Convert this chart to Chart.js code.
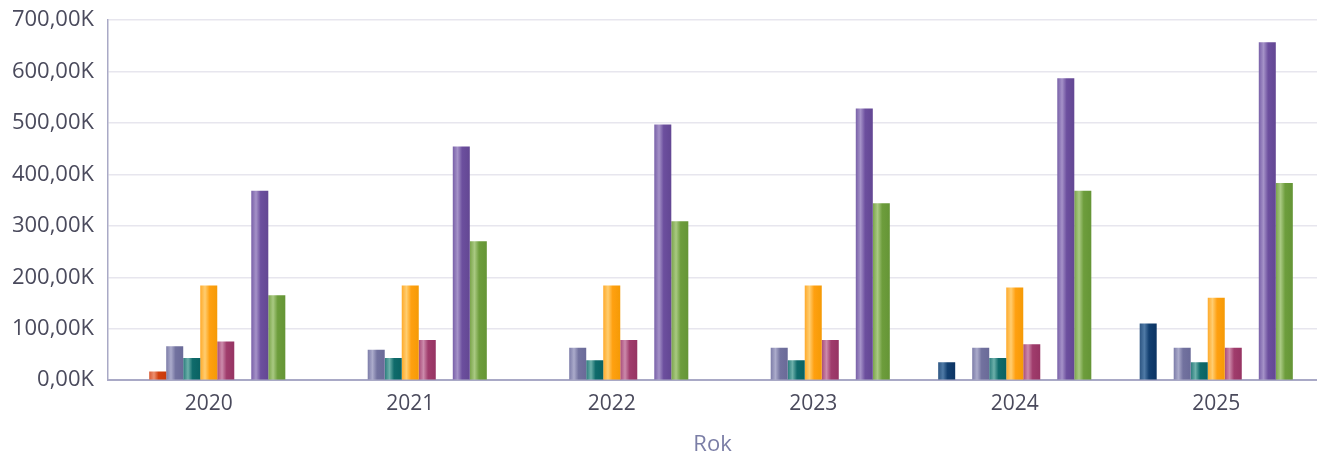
<!DOCTYPE html>
<html>
<head>
<meta charset="utf-8">
<script src="https://cdn.jsdelivr.net/npm/chart.js@4/dist/chart.umd.min.js"></script>
<style>
  html, body { margin: 0; padding: 0; background: #fff; }
  #wrap { width: 1317px; height: 452px; position: relative; }
</style>
</head>
<body>
<div id="wrap"><canvas id="chart"></canvas></div>
<script>
// roky na ose X
const years = ['2020', '2021', '2022', '2023', '2024', '2025'];

// hodnoty jednotlivých řad (v Kč)
const seriesA = [null, null, null, null, 35000, 110000];     // tmavě modrá
const seriesB = [17000, null, null, null, null, null];        // červená
const seriesC = [66000, 59000, 63000, 63000, 63000, 63000];   // šedomodrá
const seriesD = [43000, 43000, 39000, 39000, 43000, 35000];   // petrolejová
const seriesE = [184000, 184000, 184000, 184000, 180000, 160000]; // oranžová
const seriesF = [75000, 78000, 78000, 78000, 70000, 63000];   // vínová
const seriesG = [null, null, null, null, null, null];         // prázdná řada
const seriesH = [368000, 454000, 497000, 528000, 587000, 657000]; // fialová
const seriesI = [165000, 270000, 309000, 344000, 368000, 383000]; // zelená

const yTicksMax = 700000;
const yTicksStep = 100000;

// barvy: [levý okraj, odlesk, střed, pravý okraj]
const palette = [
    ['#2c5582', '#4f7aa6', '#123f70', '#0c3463'],
    ['#d85a34', '#ec9070', '#d2400f', '#c93a0c'],
    ['#7c7ca8', '#ababcb', '#72729f', '#6a6a98'],
    ['#2a7c7c', '#6cb0aa', '#0f6b6b', '#0a6262'],
    ['#ffaa2a', '#ffcd70', '#ffa010', '#f59a06'],
    ['#a84c7a', '#cc8aab', '#a03c6c', '#963463'],
    ['#999999', '#bbbbbb', '#999999', '#999999'],
    ['#7860a8', '#a592c8', '#6c4f9e', '#634793'],
    ['#7aa44a', '#a9c982', '#6d9d3c', '#659536']
];

const CAT_PCT = 0.76;

function barFill(ctx) {
    const cols = palette[ctx.datasetIndex];
    const chart = ctx.chart;
    const xs = chart.scales && chart.scales.x;
    if (!xs || ctx.type !== 'data' || !xs.width) return cols[2];
    const nSets = chart.data.datasets.length;
    const catW = xs.width / years.length;
    const groupW = catW * CAT_PCT;
    const bw = groupW / nSets;
    const left = xs.getPixelForValue(ctx.dataIndex) - groupW / 2 + ctx.datasetIndex * bw;
    const g = chart.ctx.createLinearGradient(left, 0, left + bw, 0);
    g.addColorStop(0, cols[0]);
    g.addColorStop(0.28, cols[1]);
    g.addColorStop(0.55, cols[2]);
    g.addColorStop(1, cols[3]);
    return g;
}

const allSeries = [seriesA, seriesB, seriesC, seriesD, seriesE, seriesF, seriesG, seriesH, seriesI];
const names = ['Řada 1', 'Řada 2', 'Řada 3', 'Řada 4', 'Řada 5', 'Řada 6', 'Řada 7', 'Řada 8', 'Řada 9'];

const datasets = allSeries.map((vals, i) => ({
    label: names[i],
    data: vals,
    backgroundColor: barFill,
    borderWidth: 0,
    barPercentage: 1,
    categoryPercentage: CAT_PCT
}));

const fmtK = v => (v / 1000).toFixed(2).replace('.', ',') + 'K';

new Chart(document.getElementById('chart'), {
    type: 'bar',
    data: { labels: years, datasets: datasets },
    options: {
        responsive: true,
        maintainAspectRatio: false,
        animation: false,
        layout: { padding: { top: 20, right: 0, left: 0, bottom: 0 } },
        plugins: {
            legend: { display: false },
            tooltip: { enabled: false }
        },
        scales: {
            x: {
                grid: { display: false, drawTicks: false },
                border: { color: '#a9a9c6', width: 2 },
                ticks: {
                    color: '#4a4a5c',
                    font: { family: 'Open Sans', size: 21 },
                    padding: 11
                },
                title: {
                    display: true,
                    text: 'Rok',
                    color: '#7b7ea6',
                    font: { family: 'Open Sans', size: 22, lineHeight: 0.8 },
                    padding: { top: 9, bottom: -2 }
                }
            },
            y: {
                min: 0,
                max: yTicksMax,
                afterFit: s => { s.width = 108; },
                grid: { color: '#e7e6ee', lineWidth: 1.5, drawTicks: false },
                border: { color: '#a9a9c6', width: 1.5 },
                ticks: {
                    stepSize: yTicksStep,
                    color: '#4a4a5c',
                    font: { family: 'Open Sans', size: 22, lineHeight: 0.5 },
                    padding: 14,
                    callback: v => fmtK(v)
                }
            }
        }
    }
});
</script>
</body>
</html>
